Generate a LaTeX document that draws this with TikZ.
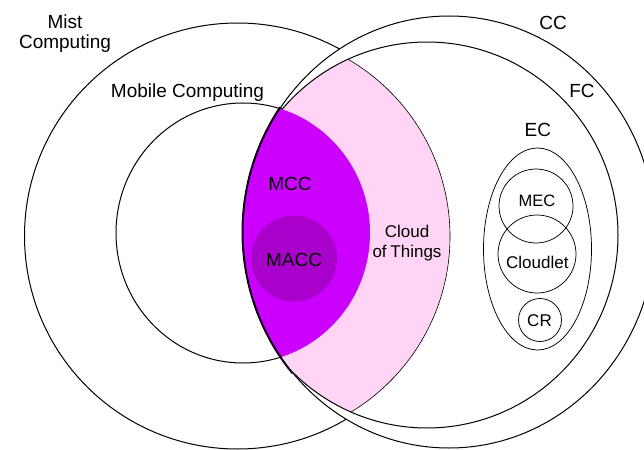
\documentclass[tikz,border=0pt]{standalone}
\usepackage{fontspec}
\setmainfont{Liberation Sans}
\usetikzlibrary{calc}

\definecolor{cotpink}{RGB}{255,212,245}
\definecolor{mccpurple}{RGB}{204,0,255}
\definecolor{maccpurple}{RGB}{170,0,204}

% Outline of the fog computing region: an elliptic arc over the top, right
% and bottom, closed on the left by an arc hugging the cloud computing edge.
\newcommand{\fogboundary}{($(427,235)+(220.8:191 and 193)$)
  arc[start angle=220.8, end angle=494.7, x radius=191, y radius=193]
  -- ($(449,232)+(139.4:207 and 217)$)
  arc[start angle=139.4, end angle=215.1, x radius=207, y radius=217]
  -- cycle}

\tikzset{
  outline/.style={draw=black, line width=1pt},
  thinline/.style={draw=black, line width=0.75pt},
  biglabel/.style={font=\fontsize{19}{20}\selectfont, inner sep=0pt, anchor=base},
  smalllabel/.style={font=\fontsize{17}{20}\selectfont, inner sep=0pt, anchor=base},
}

\begin{document}
\begin{tikzpicture}[x=1pt, y=-1pt]
\useasboundingbox (0,0) rectangle (644,449);
\clip (0,0) rectangle (644,449);

% Mist computing and mobile computing outlines
\draw[outline] (237.5,236) circle (213);
\draw[outline] (243,233) ellipse [x radius=127, y radius=130];

% cloud computing area hides what lies beneath it
\fill[white] (449,232) ellipse [x radius=206, y radius=216];

% Cloud of Things and MCC areas inside fog computing
\begin{scope}
  \clip \fogboundary;
  \fill[cotpink] (245,236.5) circle (205);
  \draw[line width=0.6pt] (245,236.5) circle (205);
  \fill[mccpurple] (243,233) ellipse [x radius=127, y radius=130];
\end{scope}
\fill[maccpurple] (294,258.5) circle (43);

% cloud computing and fog computing outlines
\draw[outline] (449,232) ellipse [x radius=206, y radius=216];
\draw[outline] \fogboundary;

% edge computing group
\draw[thinline] (537.5,249) ellipse [x radius=54, y radius=101];
\draw[thinline] (536,206) circle (37);
\draw[thinline] (537,254) circle (39);
\draw[thinline] (540,320) circle (21.5);

% labels
\node[font=\fontsize{19}{20}\selectfont, align=center, inner sep=0pt] (mist) at (65,34) {Mist\\Computing};
\node[biglabel] (mobile) at (187.5,97.3) {Mobile Computing};
\node[biglabel] (cc) at (553,29.3) {CC};
\node[biglabel] (fc) at (582,97.3) {FC};
\node[biglabel] (ec) at (537.8,136.7) {EC};
\node[font=\fontsize{16.5}{20}\selectfont, inner sep=0pt, anchor=base] (mec) at (537,206) {MEC};
\node[smalllabel] (cloudlet) at (537.3,268) {Cloudlet};
\node[smalllabel] (cr) at (539.5,326.7) {CR};
\node[biglabel] (mcc) at (290,190) {MCC};
\node[biglabel] (macc) at (294,266.7) {MACC};
\node[font=\fontsize{17}{20}\selectfont, align=center, inner sep=0pt] (cot) at (407,243) {Cloud\\of\kern-1pt\ Things};
\end{tikzpicture}
\end{document}
